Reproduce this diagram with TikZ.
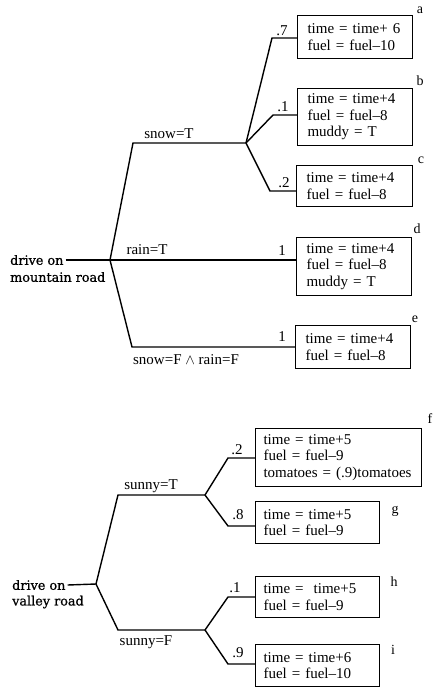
\documentclass[tikz,border=0pt]{standalone}
\usepackage{fontspec}
\setmainfont{Liberation Serif}
\newfontfamily\rootfont[FakeBold=0.8]{DejaVu Serif}
\usetikzlibrary{positioning}

\begin{document}
\begin{tikzpicture}[x=1pt, y=-1pt,
  every node/.style={font=\fontsize{15}{16.5}\selectfont, inner sep=0pt},
  branch/.style={line width=1.4pt},
  effectbox/.style={draw, line width=1.1pt, anchor=north west, align=left, inner xsep=10pt, text width=95pt},
  rootlabel/.style={font=\rootfont\fontsize{12.8}{17}\selectfont, anchor=west, inner xsep=2pt},
  tag/.style={font=\fontsize{14}{16}\selectfont}]
  \useasboundingbox (0,0) rectangle (432,688);

  % mountain road: junctions
  \coordinate (mroot) at (110,260);
  \coordinate (msnowbend) at (133,143);
  \coordinate (msnow) at (246,143);
  \coordinate (mdrybend) at (132,347);
  \coordinate (ma) at (272,38);
  \coordinate (mb) at (273,115);
  \coordinate (mc) at (270,191);
  % mountain road: outcome boxes
  \node[effectbox, minimum height=43pt] (boxa) at (297,15) {time = time+ 6\\fuel = fuel--10};
  \node[effectbox, minimum height=57pt] (boxb) at (297,88) {time = time+4\\fuel = fuel--8\\muddy = T};
  \node[effectbox, minimum height=41pt, text width=96pt] (boxc) at (296,165) {time = time+4\\fuel = fuel--8};
  \node[effectbox, minimum height=58pt] (boxd) at (296,237) {time = time+4\\fuel = fuel--8\\muddy = T};
  \node[effectbox, minimum height=43pt] (boxe) at (295,325) {time = time+4\\fuel = fuel--8};
  \node[rootlabel] (mdrive) at (8,260) {drive on};
  \node[rootlabel] (mroad) at (8,277) {mountain road};
  % mountain road: branches
  \draw[branch] (mdrive.east) -- (mroot);
  \draw[branch] (mroot) -- (msnowbend) -- (msnow);
  \draw[branch] (msnow) -- (ma) -- (ma -| boxa.west);
  \draw[branch] (msnow) -- (mb) -- (mb -| boxb.west);
  \draw[branch] (msnow) -- (mc) -- (mc -| boxc.west);
  \draw[branch] (mroot) -- (mroot -| boxd.west);
  \draw[branch] (mroot) -- (mdrybend) -- (mdrybend -| boxe.west);
  % mountain road: labels
  \node (lsnowT) at (169,134) {snow=T};
  \node (lrainT) at (147,250) {rain=T};
  \node (ldry) at (186,360) {snow=F $\wedge$ rain=F};
  \node (pa) at (282,31) {.7};
  \node (pb) at (283,107) {.1};
  \node (pc) at (284,183) {.2};
  \node (pd) at (282,251) {1};
  \node (pe) at (282,337) {1};
  \node[tag] (ta) at (420,10) {a};
  \node[tag] (tb) at (420,81) {b};
  \node[tag] (tc) at (421,160) {c};
  \node[tag] (td) at (417,229) {d};
  \node[tag] (te) at (415,319) {e};

  % valley road: junctions
  \coordinate (vroot) at (96,584);
  \coordinate (vsunbend) at (118,495);
  \coordinate (vsun) at (205,495);
  \coordinate (vcloudbend) at (118,630);
  \coordinate (vcloud) at (205,630);
  \coordinate (vf) at (228,458);
  \coordinate (vg) at (228,526);
  \coordinate (vh) at (228,597);
  \coordinate (vi) at (228,664);
  % valley road: outcome boxes
  \node[effectbox, minimum height=58pt, inner xsep=8pt, text width=150pt] (boxf) at (255,428) {time = time+5\\fuel = fuel--9\\tomatoes = (.9)tomatoes};
  \node[effectbox, minimum height=42pt, inner xsep=8pt, text width=108pt] (boxg) at (255,501) {time = time+5\\fuel = fuel--9};
  \node[effectbox, minimum height=41pt, inner xsep=8pt, text width=108pt] (boxh) at (255,576) {time =\ \ time+5\\fuel = fuel--9};
  \node[effectbox, minimum height=42pt, inner xsep=8pt, text width=108pt] (boxi) at (255,644) {time = time+6\\fuel = fuel--10};
  \node[rootlabel] (vdrive) at (10,585) {drive on};
  \node[rootlabel] (vroad) at (10,602) {valley road};
  % valley road: branches
  \draw[branch] (vdrive.east) -- (vroot);
  \draw[branch] (vroot) -- (vsunbend) -- (vsun);
  \draw[branch] (vroot) -- (vcloudbend) -- (vcloud);
  \draw[branch] (vsun) -- (vf) -- (vf -| boxf.west);
  \draw[branch] (vsun) -- (vg) -- (vg -| boxg.west);
  \draw[branch] (vcloud) -- (vh) -- (vh -| boxh.west);
  \draw[branch] (vcloud) -- (vi) -- (vi -| boxi.west);
  % valley road: labels
  \node (lsunT) at (151,486) {sunny=T};
  \node (lsunF) at (146,642) {sunny=F};
  \node (pf) at (237,450) {.2};
  \node (pg) at (238,515) {.8};
  \node (ph) at (235,588) {.1};
  \node (pi) at (238,653) {.9};
  \node[tag] (tf) at (430,419) {f};
  \node[tag] (tg) at (395,511) {g};
  \node[tag] (th) at (394,582) {h};
  \node[tag] (ti) at (393,650) {i};
\end{tikzpicture}
\end{document}
